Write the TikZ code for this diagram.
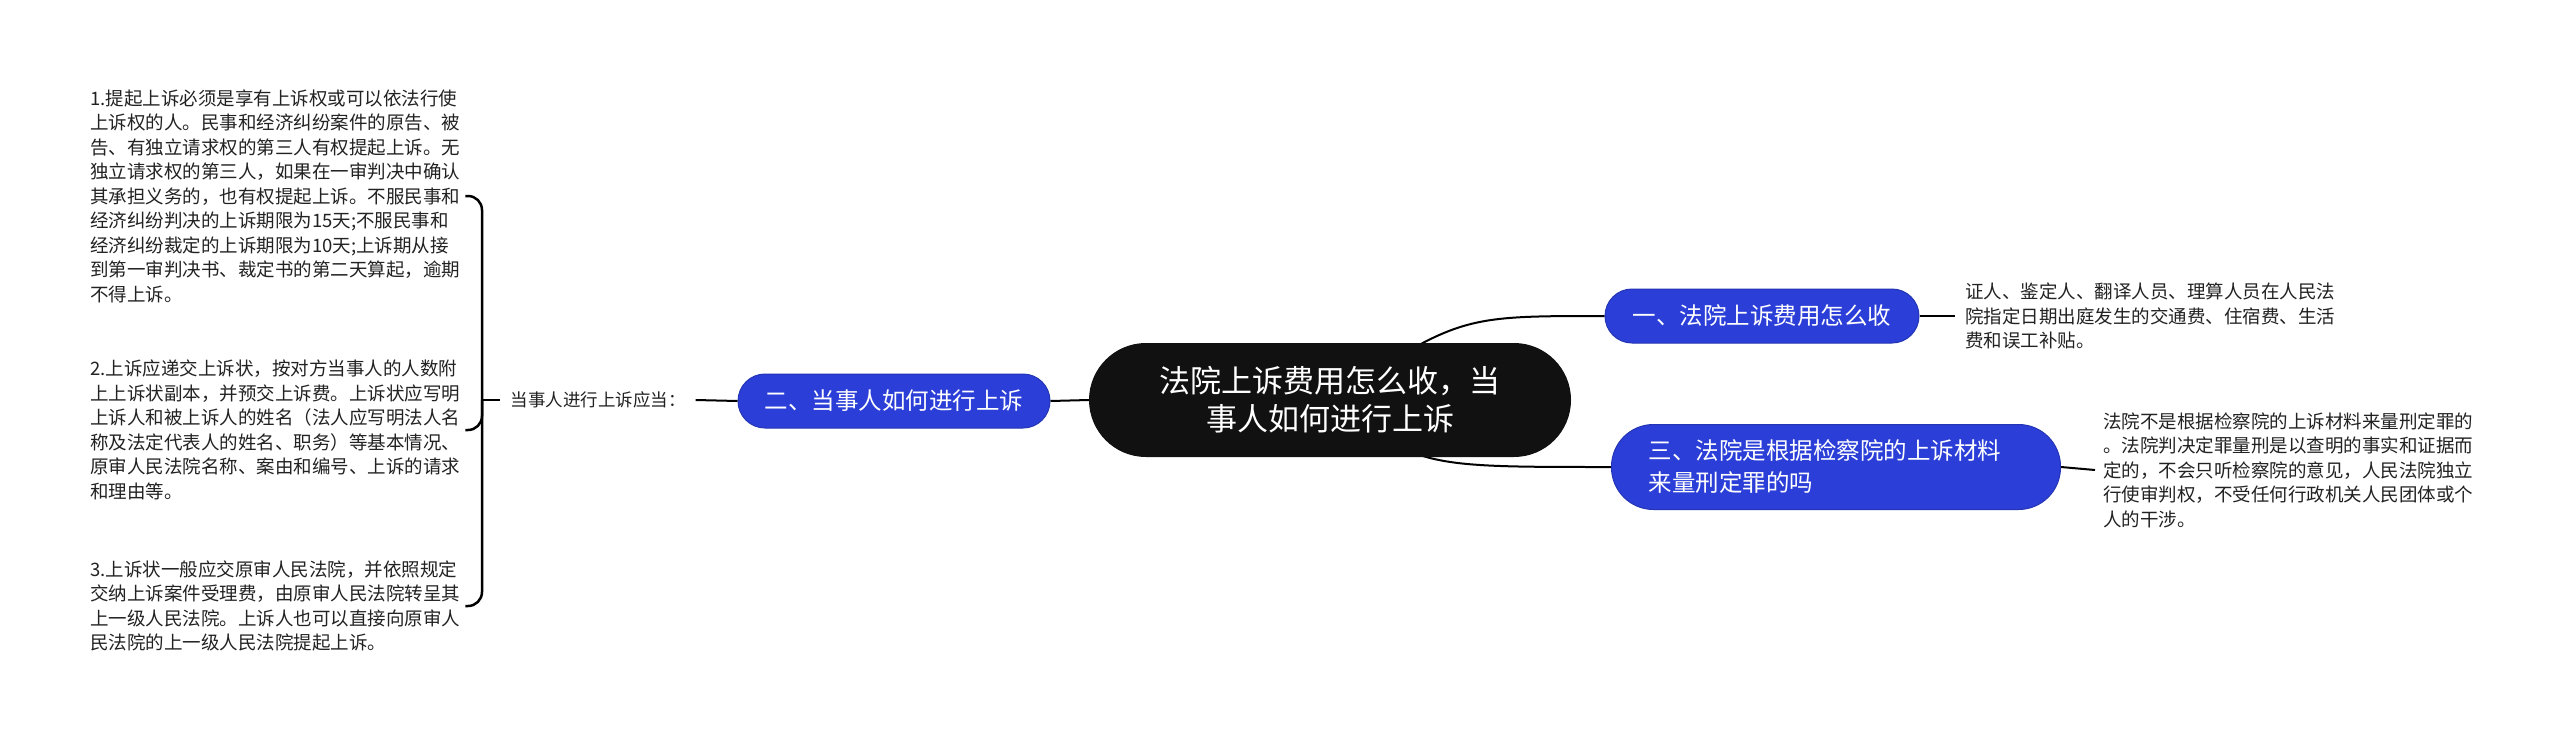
\documentclass[tikz,border=0pt]{standalone}
\usepackage{fontspec}
\setmainfont{Noto Sans CJK SC}
\usetikzlibrary{backgrounds}
\definecolor{nodeblue}{HTML}{2B3FD8}
\definecolor{nodeblueb}{HTML}{2334B4}
\definecolor{rootblack}{HTML}{111111}
\definecolor{leaftext}{HTML}{222222}
\begin{document}
\begin{tikzpicture}[x=1pt,y=-1pt,
  root/.style={fill=rootblack, text=white, rounded corners=57pt, minimum width=482pt, minimum height=114pt, inner sep=0pt, align=center, font=\fontsize{31}{38}\selectfont},
  branch/.style={fill=nodeblue, draw=nodeblueb, line width=1pt, text=white, rounded corners=27pt, minimum height=54pt, inner sep=0pt, font=\fontsize{23.5}{32}\selectfont},
  leaf/.style={inner sep=0pt, align=left, anchor=west, text=leaftext, font=\fontsize{18.5}{24.5}\selectfont},
  conn/.style={line width=2pt, draw=black},
  brk/.style={line width=2.5pt, draw=black, rounded corners=14pt}]
\useasboundingbox (0,0) rectangle (2560,742);

\node[root] (root) at (1330,400) {法院上诉费用怎么收，当\\事人如何进行上诉};
\node[branch, minimum width=312pt] (b2) at (894,401) {二、当事人如何进行上诉};
\node[branch, minimum width=314pt] (b1) at (1762,316) {一、法院上诉费用怎么收};
\node[branch, minimum width=449pt, minimum height=85pt, rounded corners=42pt, text width=375pt, align=left] (b3) at (1836,467) {三、法院是根据检察院的上诉材料\\来量刑定罪的吗};

\node[inner xsep=10pt, inner ysep=0pt, text=leaftext, font=\fontsize{17.5}{20}\selectfont] (lab) at (598,400) {当事人进行上诉应当：};

\node[leaf] (t1) at (90,196) {1.提起上诉必须是享有上诉权或可以依法行使\\上诉权的人。民事和经济纠纷案件的原告、被\\告、有独立请求权的第三人有权提起上诉。无\\独立请求权的第三人，如果在一审判决中确认\\其承担义务的，也有权提起上诉。不服民事和\\经济纠纷判决的上诉期限为15天;不服民事和\\经济纠纷裁定的上诉期限为10天;上诉期从接\\到第一审判决书、裁定书的第二天算起，逾期\\不得上诉。};
\node[leaf] (t2) at (90,430) {2.上诉应递交上诉状，按对方当事人的人数附\\上上诉状副本，并预交上诉费。上诉状应写明\\上诉人和被上诉人的姓名（法人应写明法人名\\称及法定代表人的姓名、职务）等基本情况、\\原审人民法院名称、案由和编号、上诉的请求\\和理由等。};
\node[leaf] (t3) at (90,606) {3.上诉状一般应交原审人民法院，并依照规定\\交纳上诉案件受理费，由原审人民法院转呈其\\上一级人民法院。上诉人也可以直接向原审人\\民法院的上一级人民法院提起上诉。};

\node[leaf] (r1) at (1965,316) {证人、鉴定人、翻译人员、理算人员在人民法\\院指定日期出庭发生的交通费、住宿费、生活\\费和误工补贴。};
\node[leaf] (r3) at (2103,470) {法院不是根据检察院的上诉材料来量刑定罪的\\。法院判决定罪量刑是以查明的事实和证据而\\定的，不会只听检察院的意见，人民法院独立\\行使审判权，不受任何行政机关人民团体或个\\人的干涉。};

\begin{scope}[on background layer]
\fill[white] (0,0) rectangle (2560,742);
\draw[conn] (root.center) .. controls (1460,316) .. (b1.west);
\draw[conn] (root.center) .. controls (1420,467) .. (b3.west);
\end{scope}
\draw[conn] (root.west) -- (b2.east);
\draw[conn] (b1.east) -- ([xshift=-10pt]r1.west);
\draw[conn] (b3.east) -- ([xshift=-8pt]r3.west);
\draw[conn] (b2.west) -- (lab.east);

\coordinate (h1) at ([xshift=5pt]t1.east);
\coordinate (h2) at ([xshift=5pt]t2.east);
\coordinate (h3) at ([xshift=5pt]t3.east);
\coordinate (bt) at (482,400);
\draw[brk] (h1) -| (bt) |- (h3);
\draw[brk] (h2) -| (bt);
\draw[brk, rounded corners=0pt] (bt) -- (lab.west);
\end{tikzpicture}
\end{document}
